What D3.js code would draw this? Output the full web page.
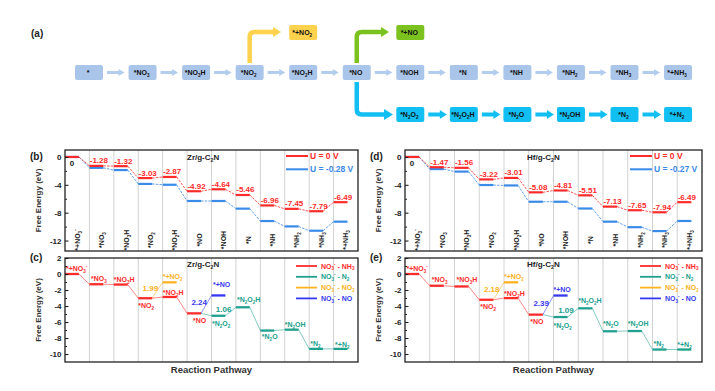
<!DOCTYPE html>
<html><head><meta charset="utf-8">
<script src="https://cdn.jsdelivr.net/npm/d3@7"></script>
<style>
body{margin:0;background:#fff}
svg{display:block}
text{font-family:"Liberation Sans",Arial,sans-serif}
</style>
</head><body>
<svg id="chart" width="715" height="391"></svg>
<script>
// ---------------- DATA ----------------
// (a) reaction network
const flowMain = ["*","*NO_3","*NO_3H","*NO_2","*NO_2H","*NO","*NOH","*N","*NH","*NH_2","*NH_3","*+NH_3"];
const flowN2 = ["*N_2O_2","*N_2O_2H","*N_2O","*N_2OH","*N_2","*+N_2"];
const flowNO2 = "*+NO_2";
const flowNO = "*+NO";

// (b)/(d) NO3- -> NH3 free energy
const statesNH3 = ["*+NO_3^-","*NO_3","*NO_3H","*NO_2","*NO_2H","*NO","*NOH","*N","*NH","*NH_2","*NH_3","*+NH_3"];
const zrU0 = [0,-1.28,-1.32,-3.03,-2.87,-4.92,-4.64,-5.46,-6.96,-7.45,-7.79,-6.49];
const zrUL = [0,-1.56,-1.88,-3.87,-3.99,-6.32,-6.32,-7.42,-9.20,-9.97,-10.59,-9.29];
const hfU0 = [0,-1.47,-1.56,-3.22,-3.01,-5.08,-4.81,-5.51,-7.13,-7.65,-7.94,-6.49];
const hfUL = [0,-1.74,-2.10,-4.03,-4.09,-6.43,-6.43,-7.40,-9.29,-10.08,-10.64,-9.19];
const zrLegend = ["U = 0 V","U = -0.28 V"];
const hfLegend = ["U = 0 V","U = -0.27 V"];
const ticksEnergy = [0,-4,-8,-12];
const minorEnergy = [-2,-6,-10];

// (c)/(e) reaction pathways
const pathNH3Names = ["*+NO_3^-","*NO_3","*NO_3H","*NO_2","*NO_2H","*NO"];
const pathN2Names = ["*N_2O_2","*N_2O_2H","*N_2O","*N_2OH","*N_2","*+N_2"];
const pathNO2Name = "*+NO_2";
const pathNOName = "*+NO";
const zrPathNH3 = [0,-1.28,-1.32,-3.03,-2.87,-4.92];
const zrPathNO2 = -1.04;
const zrPathNO = -2.68;
const zrPathN2 = [-5.22,-4.16,-7.07,-6.96,-9.36,-9.36];
const zrBarriers = ["1.99","2.24","1.06"];
const hfPathNH3 = [0,-1.47,-1.56,-3.22,-3.01,-5.08];
const hfPathNO2 = -1.04;
const hfPathNO = -2.69;
const hfPathN2 = [-5.38,-4.29,-7.16,-7.13,-9.44,-9.44];
const hfBarriers = ["2.18","2.39","1.09"];
const pathLegend = ["NO_3^- - NH_3","NO_3^- - N_2","NO_3^- - NO_2","NO_3^- - NO"];
const ticksPath = [2,0,-2,-4,-6,-8,-10];
const minorPath = [1,-1,-3,-5,-7,-9];

// ---------------- STYLE / LAYOUT ----------------
const RED="#ff2b2b", UBLUE="#3a8ae8", TEAL="#20a08e", ORANGE="#ffb21e", NOBLUE="#3838f2";
const svg = d3.select("#chart");

function rich(sel,str,fs){
  const parts=[];let i=0;
  while(i<str.length){
    const c=str[i];
    if(c==="_"||c==="^"){parts.push({t:str[i+1],k:c});i+=2;}
    else{let s="";while(i<str.length&&str[i]!=="_"&&str[i]!=="^"){s+=str[i];i++;}parts.push({t:s,k:"n"});}
  }
  let cur=0;
  parts.forEach(p=>{
    const target=p.k==="_"?fs*0.28:(p.k==="^"?-fs*0.42:0);
    sel.append("tspan").attr("dy",(target-cur).toFixed(2)).attr("font-size",p.k==="n"?fs:fs*0.65).text(p.t);
    cur=target;
  });
  return sel;
}
function txt(g,x,y,str,fs,fill,anchor,weight){
  const t=g.append("text").attr("x",x).attr("y",y).attr("font-size",fs)
    .attr("font-weight",weight||"bold").attr("fill",fill||"#111").attr("text-anchor",anchor||"start");
  rich(t,str,fs);return t;
}

// ---------------- (a) flow diagram ----------------
(function(){
  const g=svg.append("g");
  const colX=i=>75+i*53.55, BW=28, BH=15;
  const box=(x,y,label,fill)=>{
    g.append("rect").attr("x",x).attr("y",y).attr("width",BW).attr("height",BH).attr("rx",2).attr("fill",fill);
    txt(g,x+BW/2-1,y+BH/2+2.5,label,7,"#111","middle");
  };
  const arrowH=(x1,x2,y,sh,hw,hl,fill)=>{
    const p=`M${x1},${y-sh/2}L${x2-hl},${y-sh/2}L${x2-hl},${y-hw/2}L${x2},${y}L${x2-hl},${y+hw/2}L${x2-hl},${y+sh/2}L${x1},${y+sh/2}Z`;
    g.append("path").attr("d",p).attr("fill",fill);
  };
  const head=(x,y,l,h,fill)=>g.append("path").attr("d",`M${x},${y-h/2}L${x+l},${y}L${x},${y+h/2}Z`).attr("fill",fill);
  g.append("text").attr("x",31).attr("y",37).attr("font-size",10).attr("font-weight","bold")
    .attr("font-family","'Liberation Serif','Times New Roman',serif").attr("fill","#222").text("(a)");
  // elbows
  const c3=colX(3)+BW/2, c5=colX(5)+BW/2;
  g.append("path").attr("d",`M${c3},63V37Q${c3},32 ${c3+5},32H274`).attr("fill","none").attr("stroke","#ffd24d").attr("stroke-width",4.5);
  head(273,32,8,10,"#ffd24d");
  g.append("path").attr("d",`M${c5},63V37Q${c5},32 ${c5+5},32H382`).attr("fill","none").attr("stroke","#7cc21f").attr("stroke-width",4.5);
  head(381,32,8,10,"#7cc21f");
  g.append("path").attr("d",`M${c5},82V109.5Q${c5},114.5 ${c5+5},114.5H385`).attr("fill","none").attr("stroke","#12bff2").attr("stroke-width",4.5);
  head(384,114.5,9,11,"#12bff2");
  flowMain.forEach((l,i)=>{
    box(colX(i),65,l,"#a9c5ea");
    if(i<flowMain.length-1) arrowH(colX(i)+BW+4,colX(i+1)-4,72.5,2.8,7,6,"#b3cdee");
  });
  flowN2.forEach((l,j)=>{
    box(colX(6+j),107,l,"#12bff2");
    if(j<flowN2.length-1) arrowH(colX(6+j)+BW+4,colX(7+j)-3,114.5,4,9,7,"#12bff2");
  });
  box(colX(4),25,flowNO2,"#ffd24d");
  box(colX(6),25,flowNO,"#7cc21f");
})();

// ---------------- shared axis helper ----------------
function frameAxes(g,o,y,major,minor){
  const ax=g.append("g").attr("transform",`translate(${o.x0},0)`)
    .call(d3.axisLeft(y).tickValues(major).tickSize(-3.5).tickPadding(3.5).tickFormat(d=>String(d)));
  ax.select(".domain").remove();
  ax.attr("font-family",null).attr("font-size",null);
  ax.selectAll("text").attr("font-size",8).attr("font-weight","bold").attr("fill","#222");
  ax.selectAll("line").attr("stroke","#222").attr("stroke-width",1.1);
  const mx=g.append("g").attr("transform",`translate(${o.x0},0)`)
    .call(d3.axisLeft(y).tickValues(minor).tickSize(-2).tickFormat(""));
  mx.select(".domain").remove();
  mx.selectAll("line").attr("stroke","#222");
  g.append("rect").attr("x",o.x0).attr("y",o.y0).attr("width",o.x1-o.x0).attr("height",o.y1-o.y0)
    .attr("fill","none").attr("stroke","#222").attr("stroke-width",1.3);
  g.append("text").attr("transform",`translate(${o.x0-27},${(o.y0+o.y1)/2}) rotate(-90)`)
    .attr("text-anchor","middle").attr("dy","0.35em").attr("font-size",8).attr("font-weight","bold")
    .attr("fill","#333").text("Free Energy (eV)");
}
function grid(g,x,o){
  g.selectAll(null).data(d3.range(1,12)).join("line")
    .attr("x1",i=>x(i)).attr("x2",i=>x(i)).attr("y1",o.y0).attr("y2",o.y1)
    .attr("stroke","#d2d2d2").attr("stroke-width",1);
}
const BF=0.57;

// ---------------- (b)/(d) energy panels ----------------
function energyPanel(o){
  const g=svg.append("g");
  const x=d3.scaleBand().domain(d3.range(statesNH3.length)).range([o.x0,o.x1]);
  const bw=x.bandwidth();
  const y=d3.scaleLinear().domain([-13.5,1]).range([o.y1,o.y0]);
  grid(g,x,o);
  [{v:o.low,c:UBLUE},{v:o.zero,c:RED}].forEach(s=>{
    g.selectAll(null).data(d3.range(s.v.length-1)).join("line")
      .attr("x1",i=>x(i)+bw*BF).attr("y1",i=>y(s.v[i])).attr("x2",i=>x(i+1)).attr("y2",i=>y(s.v[i+1]))
      .attr("stroke",s.c).attr("stroke-width",1).attr("stroke-dasharray","2.5,1.2").attr("opacity",0.8);
    g.selectAll(null).data(s.v).join("line")
      .attr("x1",(d,i)=>x(i)).attr("x2",(d,i)=>x(i)+bw*BF).attr("y1",d=>y(d)).attr("y2",d=>y(d))
      .attr("stroke",s.c).attr("stroke-width",2.2);
  });
  // value labels
  g.selectAll(null).data(o.zero).join("text")
    .attr("x",(d,i)=>i===0?x(i)+7:x(i)+bw*BF/2+2.5)
    .attr("y",(d,i)=>i===0?y(d)+9:y(d)-2.5)
    .attr("text-anchor","middle").attr("font-size",8).attr("font-weight","bold")
    .attr("fill",(d,i)=>i===0?"#222":RED)
    .text(d=>d===0?"0":d.toFixed(2));
  // category labels (rotated)
  statesNH3.forEach((s,i)=>{
    const t=g.append("text").attr("transform",`translate(${x(i)+bw/2+2.5},${o.y1-11}) rotate(-90)`)
      .attr("text-anchor","middle").attr("font-size",7).attr("font-weight","bold").attr("fill","#222");
    rich(t,s,7);
  });
  frameAxes(g,o,y,ticksEnergy,minorEnergy);
  // legend
  [[RED,o.legend[0]],[UBLUE,o.legend[1]]].forEach(([c,l],k)=>{
    const ly=o.y0+6+k*13.3;
    g.append("line").attr("x1",o.x1-72).attr("x2",o.x1-50).attr("y1",ly).attr("y2",ly).attr("stroke",c).attr("stroke-width",2);
    g.append("text").attr("x",o.x1-48).attr("y",ly+3).attr("font-size",8.5).attr("font-weight","bold").attr("fill",c).text(l);
  });
  txt(g,o.x0+122,o.y0+10,o.title,8,"#222");
  g.append("text").attr("x",o.x0-35).attr("y",o.y0+10).attr("font-size",10).attr("font-weight","bold").attr("fill","#222").text(o.letter);
}

// ---------------- (c)/(e) pathway panels ----------------
function pathPanel(o){
  const g=svg.append("g");
  const x=d3.scaleBand().domain(d3.range(statesNH3.length)).range([o.x0,o.x1]);
  const bw=x.bandwidth();
  const y=d3.scaleLinear().domain([-11,2]).range([o.y1,o.y0]);
  grid(g,x,o);
  const conn=(i1,v1,i2,v2,c)=>g.append("line").attr("x1",x(i1)+bw*BF).attr("y1",y(v1)).attr("x2",x(i2)).attr("y2",y(v2))
      .attr("stroke",c).attr("stroke-width",1).attr("opacity",0.55);
  const bar=(i,v,c)=>g.append("line").attr("x1",x(i)).attr("x2",x(i)+bw*BF).attr("y1",y(v)).attr("y2",y(v))
      .attr("stroke",c).attr("stroke-width",2.3);
  // N2 branch (teal)
  const n2Start=6;
  conn(5,o.nh3[5],n2Start,o.n2[0],TEAL);
  o.n2.forEach((v,j)=>{ if(j>0) conn(n2Start+j-1,o.n2[j-1],n2Start+j,v,TEAL); });
  o.n2.forEach((v,j)=>bar(n2Start+j,v,TEAL));
  // NO2 branch
  conn(3,o.nh3[3],4,o.no2,ORANGE); bar(4,o.no2,ORANGE);
  // NO branch
  conn(5,o.nh3[5],6,o.no,NOBLUE); bar(6,o.no,NOBLUE);
  // NH3 path (red)
  o.nh3.forEach((v,i)=>{ if(i>0) conn(i-1,o.nh3[i-1],i,v,RED); });
  o.nh3.forEach((v,i)=>bar(i,v,RED));
  // state labels
  const L=o.lab;
  pathNH3Names.forEach((s,i)=>txt(g,x(i)+L.nh3[i][0],y(o.nh3[i])+L.nh3[i][1],s,7,RED));
  pathN2Names.forEach((s,j)=>txt(g,x(n2Start+j)+L.n2[j][0],y(o.n2[j])+L.n2[j][1],s,7,TEAL));
  txt(g,x(4)+L.no2[0],y(o.no2)+L.no2[1],pathNO2Name,7,ORANGE);
  txt(g,x(6)+L.no[0],y(o.no)+L.no[1],pathNOName,7,NOBLUE);
  // barrier labels
  const bar1=[[3,o.nh3[3],4,o.no2,ORANGE],[5,o.nh3[5],6,o.no,NOBLUE],[6,o.n2[0],7,o.n2[1],TEAL]];
  bar1.forEach(([i1,v1,i2,v2,c],k)=>{
    g.append("text").attr("x",x(i2)-12.3).attr("y",(y(v1)+y(v2))/2+0.5).attr("text-anchor","middle")
      .attr("font-size",8).attr("font-weight","bold").attr("fill",c).text(o.barriers[k]);
  });
  frameAxes(g,o,y,ticksPath,minorPath);
  // legend
  [RED,TEAL,ORANGE,NOBLUE].forEach((c,k)=>{
    const ly=o.y0+8+k*10.8;
    g.append("line").attr("x1",o.x1-62).attr("x2",o.x1-41).attr("y1",ly).attr("y2",ly).attr("stroke",c).attr("stroke-width",1.8);
    txt(g,o.x1-37,ly+2.5,pathLegend[k],7,c);
  });
  txt(g,o.x0+122,o.y0+9,o.title,8,"#222");
  g.append("text").attr("x",(o.x0+o.x1)/2).attr("y",o.y1+11).attr("text-anchor","middle")
    .attr("font-size",9.5).attr("font-weight","bold").attr("fill","#333").text("Reaction Pathway");
  g.append("text").attr("x",o.x0-35).attr("y",o.y0+3).attr("font-size",10).attr("font-weight","bold").attr("fill","#222").text(o.letter);
}

energyPanel({x0:65,x1:358,y0:150,y1:251,zero:zrU0,low:zrUL,legend:zrLegend,title:"Zr/g-C_2N",letter:"(b)"});
energyPanel({x0:405,x1:702,y0:150,y1:251,zero:hfU0,low:hfUL,legend:hfLegend,title:"Hf/g-C_2N",letter:"(d)"});

pathPanel({x0:65,x1:358,y0:258,y1:362,nh3:zrPathNH3,no2:zrPathNO2,no:zrPathNO,n2:zrPathN2,barriers:zrBarriers,
  title:"Zr/g-C_2N",letter:"(c)",
  lab:{nh3:[[1,-3],[1.5,-3],[0,-3],[0,10],[0,-2.2],[6,10]],n2:[[0.5,10.5],[1,-5],[1.5,8],[0,-3],[1,-3],[1.5,-2]],
       no2:[0,-3],no:[1.5,-8.5]}});
pathPanel({x0:405,x1:702,y0:258,y1:362,nh3:hfPathNH3,no2:hfPathNO2,no:hfPathNO,n2:hfPathN2,barriers:hfBarriers,
  title:"Hf/g-C_2N",letter:"(e)",
  lab:{nh3:[[1.5,-3],[2,-4],[2,-4],[1,9.5],[0,-2.5],[1.5,9]],n2:[[0,10.5],[0,-5],[0,-5],[0,-5],[1,-3.5],[0,-2.5]],
       no2:[0,-3.3],no:[0,-4]}});
</script>
</body></html>
